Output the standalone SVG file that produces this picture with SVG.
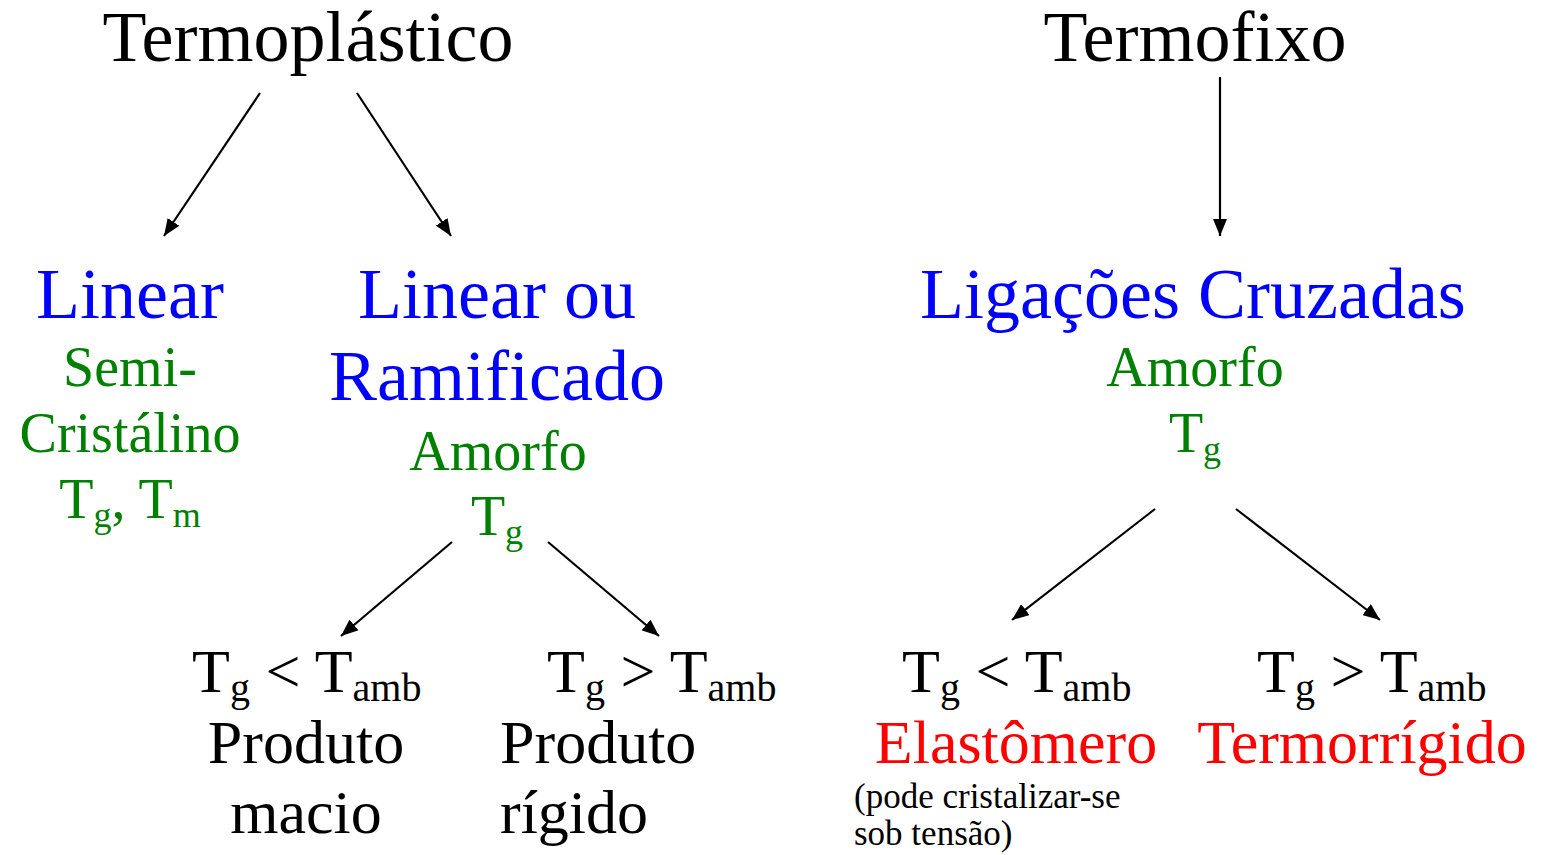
<svg xmlns="http://www.w3.org/2000/svg" width="1542" height="855" viewBox="0 0 1542 855">
<style>
text{font-family:"Liberation Serif","Times New Roman",serif;}
.h{font-size:72px;fill:#000;text-anchor:middle;}
.b{font-size:72px;fill:#0000ff;text-anchor:middle;}
.g{font-size:56px;fill:#008000;text-anchor:middle;}
.k{font-size:62px;fill:#000;}
.r{font-size:62px;fill:#ff0000;text-anchor:middle;}
.s{font-size:40px;}
.sg{font-size:36px;}
.n{font-size:35px;fill:#000;}
.c{stroke:#000;stroke-width:2.2;fill:none;marker-end:url(#ah);}
</style>
<defs>
<marker id="ah" markerUnits="userSpaceOnUse" markerWidth="18" markerHeight="14" refX="17" refY="7" orient="auto">
<path d="M0,0 L17,7 L0,14 z" fill="#000"/>
</marker>
</defs>
<rect width="1542" height="855" fill="#fff"/>
<g id="termoplastico"><text class="h" x="308" y="61">Termoplástico</text></g>
<g id="termofixo"><text class="h" x="1195" y="61">Termofixo</text></g>
<g id="linear">
<text class="b" x="130" y="318">Linear</text>
<text class="g" x="130" y="386">Semi-</text>
<text class="g" x="130" y="452">Cristálino</text>
<text class="g" x="130" y="518">T<tspan class="sg" dy="9">g</tspan><tspan dy="-9">, T</tspan><tspan class="sg" dy="9">m</tspan></text>
</g>
<g id="linear-ramificado">
<text class="b" x="497" y="318">Linear ou</text>
<text class="b" x="497" y="400">Ramificado</text>
<text class="g" x="498" y="470">Amorfo</text>
<text class="g" x="497" y="535">T<tspan class="sg" dy="9">g</tspan></text>
</g>
<g id="ligacoes-cruzadas">
<text class="b" x="1193" y="318">Ligações Cruzadas</text>
<text class="g" x="1195" y="386">Amorfo</text>
<text class="g" x="1195" y="452">T<tspan class="sg" dy="9">g</tspan></text>
</g>
<g id="produto-macio">
<text class="k" x="192" y="692">T<tspan class="s" dy="9">g</tspan><tspan dy="-9"> &lt; T</tspan><tspan class="s" dy="9">amb</tspan></text>
<text class="k" x="306" y="763" text-anchor="middle">Produto</text>
<text class="k" x="306" y="833" text-anchor="middle">macio</text>
</g>
<g id="produto-rigido">
<text class="k" x="547" y="692">T<tspan class="s" dy="9">g</tspan><tspan dy="-9"> &gt; T</tspan><tspan class="s" dy="9">amb</tspan></text>
<text class="k" x="500" y="763">Produto</text>
<text class="k" x="500" y="833">rígido</text>
</g>
<g id="elastomero">
<text class="k" x="902" y="692">T<tspan class="s" dy="9">g</tspan><tspan dy="-9"> &lt; T</tspan><tspan class="s" dy="9">amb</tspan></text>
<text class="r" x="1016" y="763">Elastômero</text>
<text class="n" x="854" y="808">(pode cristalizar-se</text>
<text class="n" x="854" y="845">sob tensão)</text>
</g>
<g id="termorrigido">
<text class="k" x="1257" y="692">T<tspan class="s" dy="9">g</tspan><tspan dy="-9"> &gt; T</tspan><tspan class="s" dy="9">amb</tspan></text>
<text class="r" x="1362" y="763">Termorrígido</text>
</g>
<g id="connectors">
<line class="c" x1="260" y1="93" x2="164" y2="236"/>
<line class="c" x1="357" y1="93" x2="451" y2="236"/>
<line class="c" x1="1220" y1="77" x2="1220" y2="236"/>
<line class="c" x1="452" y1="542" x2="341" y2="636"/>
<line class="c" x1="548" y1="542" x2="659" y2="636"/>
<line class="c" x1="1155" y1="509" x2="1012" y2="620"/>
<line class="c" x1="1236" y1="509" x2="1380" y2="620"/>
</g>
</svg>
